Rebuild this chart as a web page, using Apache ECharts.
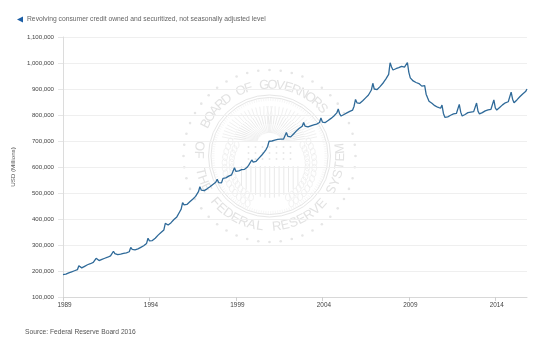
<!DOCTYPE html>
<html>
<head>
<meta charset="utf-8">
<style>
  html, body { margin: 0; padding: 0; background: #fff; }
  #chart { width: 540px; height: 351px; }
</style>
<script src="https://cdn.jsdelivr.net/npm/echarts@6/dist/echarts.min.js"></script>
</head>
<body>
<div id="chart"></div>
<script>
var seriesName = 'Revolving consumer credit owned and securitized, not seasonally adjusted level';
var sourceText = 'Source: Federal Reserve Board 2016';
var yAxisName  = 'USD (Millions)';
var startYear  = 1989;

// monthly level, thousands of USD millions, one row per year
var y1989 = [186, 186, 188, 191, 193, 195, 197, 199, 201, 203, 205, 220];
var y1990 = [214, 212, 215, 218, 221, 224, 226, 228, 230, 233, 236, 249];
var y1991 = [243, 240, 243, 245, 247, 249, 251, 253, 255, 258, 261, 276];
var y1992 = [267, 262, 263, 264, 265, 266, 268, 269, 270, 271, 274, 291];
var y1993 = [283, 280, 281, 283, 285, 288, 291, 294, 297, 300, 306, 326];
var y1994 = [316, 313, 317, 321, 326, 332, 338, 345, 348, 352, 358, 383];
var y1995 = [379, 377, 381, 386, 392, 398, 404, 408, 415, 428, 438, 463];
var y1996 = [454, 452, 456, 460, 466, 471, 476, 481, 487, 492, 505, 524];
var y1997 = [511, 507, 509, 512, 516, 520, 524, 528, 533, 537, 541, 553];
var y1998 = [540, 536, 539, 556, 557, 558, 561, 565, 567, 570, 574, 597];
var y1999 = [583, 580, 585, 589, 590, 592, 591, 594, 600, 608, 613, 627];
var y2000 = [619, 617, 622, 628, 634, 640, 646, 652, 660, 668, 679, 699];
var y2001 = [698, 700, 702, 703, 705, 706, 706, 707, 705, 707, 712, 733];
var y2002 = [718, 711, 716, 722, 727, 733, 739, 745, 749, 752, 757, 771];
var y2003 = [757, 751, 754, 757, 758, 760, 762, 764, 765, 766, 771, 789];
var y2004 = [773, 768, 771, 775, 779, 783, 787, 793, 796, 801, 808, 823];
var y2005 = [804, 796, 799, 802, 805, 808, 811, 814, 817, 819, 834, 860];
var y2006 = [847, 841, 845, 850, 855, 860, 866, 872, 877, 881, 896, 922];
var y2007 = [900, 893, 898, 903, 909, 916, 922, 930, 938, 944, 956, 1001];
var y2008 = [985, 973, 975, 978, 981, 982, 984, 987, 988, 984, 982, 1002];
var y2009 = [964, 943, 936, 931, 928, 925, 922, 921, 917, 911, 904, 913];
var y2010 = [880, 866, 853, 850, 845, 840, 836, 832, 830, 827, 826, 838];
var y2011 = [806, 791, 790, 793, 796, 799, 803, 804, 805, 806, 811, 841];
var y2012 = [811, 796, 799, 802, 808, 809, 810, 811, 812, 813, 818, 846];
var y2013 = [815, 804, 806, 809, 812, 816, 818, 820, 821, 822, 828, 858];
var y2014 = [827, 819, 825, 829, 835, 839, 844, 847, 849, 851, 858, 888];
var y2015 = [861, 847, 852, 858, 864, 870, 876, 881, 886, 890, 900];

var yearRows = [y1989, y1990, y1991, y1992, y1993, y1994, y1995, y1996, y1997,
                y1998, y1999, y2000, y2001, y2002, y2003, y2004, y2005, y2006,
                y2007, y2008, y2009, y2010, y2011, y2012, y2013, y2014, y2015];

var Months = [],
    Levels = [];

yearRows.forEach(function(row, i) {
  row.forEach(function(v, m) {
    Months.push((startYear + i) + '-' + (m + 1));
    Levels.push(v * 1000);
  });
});

// the Board seal behind the plot, drawn as pale decoration
var SEAL  = '#e6e6e6',
    cx    = 269.5,
    cy    = 156;

function ringText(text, from, to, r, outward) {
  var out = [], step = (to - from) / (text.length - 1);
  for(var i = 0; i < text.length; i++) {
    var a = (from + step * i) * Math.PI / 180;
    out.push({
      type: 'text', silent: true, z: -1,
      x: cx + r * Math.cos(a), y: cy + r * Math.sin(a),
      rotation: -(a + (outward ? 1 : -1) * Math.PI / 2),
      style: {
        text: text.charAt(i), fill: '#e2e2e2', align: 'center', verticalAlign: 'middle',
        font: '13px "Liberation Sans"'
      }
    });
  }
  return out;
}

function sealParts() {
  var parts = [], i, j, a;

  // star ring
  for(i = 0; i < 48; i++) {
    a = i / 48 * 2 * Math.PI;
    parts.push({
      type: 'circle', silent: true, z: -1,
      shape: {cx: cx + 86 * Math.cos(a), cy: cy + 86 * Math.sin(a), r: 1.3},
      style: {fill: SEAL}
    });
  }

  [61, 58.5].forEach(function(r) {
    parts.push({
      type: 'circle', silent: true, z: -1,
      shape: {cx: cx, cy: cy, r: r},
      style: {fill: 'none', stroke: SEAL, lineWidth: 1}
    });
  });

  // inner hatching of the ring
  for(i = 0; i < 150; i++) {
    a = i / 150 * 2 * Math.PI;
    parts.push({
      type: 'line', silent: true, z: -1,
      shape: {x1: cx + 55 * Math.cos(a), y1: cy + 55 * Math.sin(a),
              x2: cx + 58 * Math.cos(a), y2: cy + 58 * Math.sin(a)},
      style: {stroke: '#f0f0f0', lineWidth: 0.6}
    });
  }

  // eagle wings, feathers in three rows so they do not meet in one point
  for(i = 0; i < 18; i++) {
    a = (i * 5 + 6) * Math.PI / 180;
    [-1, 1].forEach(function(side) {
      [[12, 24], [24, 36], [36, 48]].forEach(function(row, k) {
        parts.push({
          type: 'line', silent: true, z: -1,
          shape: {x1: cx + side * (row[0] * Math.cos(a)), y1: cy - 14 - row[0] * 0.75 * Math.sin(a),
                  x2: cx + side * (row[1] * Math.cos(a + k * 0.02)), y2: cy - 14 - row[1] * 0.75 * Math.sin(a + k * 0.02)},
          style: {stroke: k === 1 ? '#e8e8e8' : '#eeeeee', lineWidth: 0.9}
        });
      });
    });
  }

  // shield stripes
  for(i = 0; i < 13; i++) {
    var sx = cx - 28 + i * 4.7,
        dip = 14 * (1 - Math.pow((sx - cx) / 30, 2));
    parts.push({
      type: 'line', silent: true, z: -1,
      shape: {x1: sx, y1: cy + 10, x2: sx, y2: cy + 28 + dip},
      style: {stroke: '#e4e4e4', lineWidth: 0.8}
    });
  }

  // stars above the shield
  for(i = 0; i < 7; i++) {
    for(j = 0; j < 3; j++) {
      parts.push({
        type: 'circle', silent: true, z: -1,
        shape: {cx: cx - 21 + i * 7, cy: cy - 9 + j * 6, r: 1},
        style: {fill: '#e8e8e8'}
      });
    }
  }

  // laurel on both sides
  for(i = 0; i < 14; i++) {
    a = (60 + i * 7) * Math.PI / 180;
    [-1, 1].forEach(function(side) {
      [38, 45].forEach(function(r) {
        parts.push({
          type: 'ellipse', silent: true, z: -1,
          shape: {cx: cx + side * r * Math.sin(a), cy: cy + 8 - r * Math.cos(a), rx: 2.4, ry: 3.6},
          style: {fill: 'none', stroke: '#ebebeb', lineWidth: 0.7}
        });
      });
    });
  }

  return parts
    .concat(ringText('BOARD OF GOVERNORS', -153, -42, 71, true))
    .concat(ringText('OF THE FEDERAL RESERVE SYSTEM', 188, -6, 71, false));
}

var chart = echarts.init(document.getElementById('chart'), null, {renderer: 'canvas'});

var option = {
  animation: false,
  backgroundColor: '#fff',
  textStyle: {fontFamily: '"Liberation Sans", Arial, sans-serif'},
  title: {
    text: sourceText,
    left: 20,
    top: 324,
    textStyle: {fontSize: 6.7, fontWeight: 'normal', color: '#555'}
  },
  legend: {
    left: 17,
    top: 16,
    padding: 0,
    itemWidth: 6,
    itemHeight: 7,
    itemGap: 4,
    icon: 'path://M10,0L0,5L10,10Z',
    textStyle: {fontSize: 6.75, color: '#666', padding: [0, 0, 0, -1]},
    data: [seriesName]
  },
  grid: {left: 63, top: 37, width: 464, height: 260, containLabel: false},
  xAxis: {
    type: 'category',
    data: Months,
    boundaryGap: false,
    axisLine: {lineStyle: {color: '#d8d8d8', width: 1}},
    axisTick: {interval: 59, length: 4, lineStyle: {color: '#cfcfcf'}},
    axisLabel: {
      interval: 59,
      margin: 5,
      fontSize: 6.4,
      color: '#444',
      padding: [0, 0, 0, 3],
      formatter: function(v) { return v.split('-')[0]; }
    },
    splitLine: {show: false}
  },
  yAxis: {
    type: 'value',
    min: 100000,
    max: 1100000,
    interval: 100000,
    name: yAxisName,
    nameLocation: 'middle',
    nameGap: 42,
    nameTextStyle: {fontSize: 6.2, color: '#555'},
    axisLine: {show: true, lineStyle: {color: '#dcdcdc'}},
    axisTick: {show: true, length: 5, lineStyle: {color: '#e6e6e6'}},
    axisLabel: {
      margin: 9,
      fontSize: 6.1,
      color: '#444',
      formatter: function(v) { return String(v).replace(/\B(?=(\d{3})+$)/g, ','); }
    },
    splitLine: {lineStyle: {color: '#efefef', width: 1}}
  },
  graphic: sealParts(),
  series: [
    {
      name: seriesName,
      type: 'line',
      data: Levels,
      showSymbol: false,
      smooth: false,
      z: 5,
      itemStyle: {color: '#1d5fa6'},
      lineStyle: {color: '#2f6a99', width: 1.3}
    }
  ]
};

chart.setOption(option);
</script>
</body>
</html>
